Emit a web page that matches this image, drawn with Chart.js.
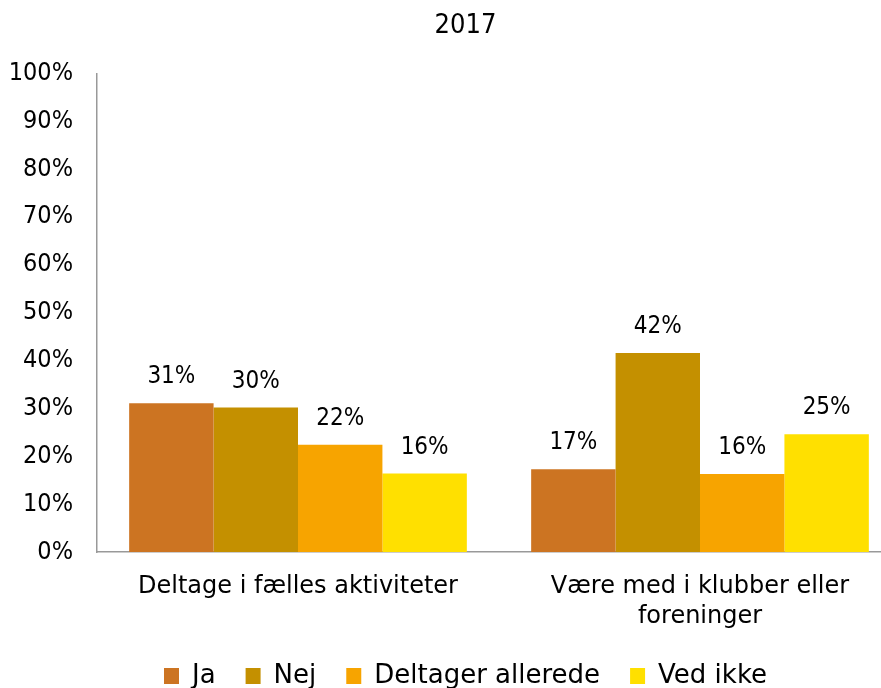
<!DOCTYPE html>
<html>
<head>
<meta charset="utf-8">
<script src="https://cdn.jsdelivr.net/npm/chart.js@4/dist/chart.umd.min.js"></script>
<style>
  html, body { margin: 0; padding: 0; background: #fff; overflow: hidden; }
  #wrap { width: 930px; height: 688px; }
</style>
</head>
<body>
<div id="wrap"><canvas id="chart"></canvas></div>
<script>
const title = "2017";
const categories = [["Deltage i fælles aktiviteter"], ["Være med i klubber eller", "foreninger"]];
const seriesNames = ["Ja", "Nej", "Deltager allerede", "Ved ikke"];
const seriesColors = ["#CC7422", "#C49000", "#F7A400", "#FFE000"];
const valuesJa = [31.1, 17.3];
const valuesNej = [30.2, 41.6];
const valuesDeltager = [22.4, 16.3];
const valuesVedIkke = [16.4, 24.6];
const yTicks = [0, 10, 20, 30, 40, 50, 60, 70, 80, 90, 100];

const COND = "'DejaVu Sans Condensed', 'DejaVu Sans', sans-serif";
const WIDE = "'DejaVu Sans', sans-serif";

// draws the value above each bar
const barLabels = {
  id: "barLabels",
  afterDatasetsDraw(chart) {
    const ctx = chart.ctx;
    ctx.save();
    ctx.font = "24px " + COND;
    ctx.fillStyle = "#000";
    ctx.textAlign = "center";
    ctx.textBaseline = "middle";
    chart.data.datasets.forEach((ds, i) => {
      chart.getDatasetMeta(i).data.forEach((bar, j) => {
        ctx.fillText(Math.round(ds.data[j]) + "%", bar.x, bar.y - 26);
      });
    });
    ctx.restore();
  }
};

// title and legend sit a bit right of the canvas centre in the original
const shiftBoxes = {
  id: "shiftBoxes",
  afterLayout(chart) {
    [chart.titleBlock, chart.legend].forEach((b) => {
      if (!b) return;
      b.left += 10;
      b.right += 10;
    });
  }
};

const allValues = [valuesJa, valuesNej, valuesDeltager, valuesVedIkke];

new Chart(document.getElementById("chart"), {
  type: "bar",
  data: {
    labels: categories,
    datasets: seriesNames.map((name, i) => ({
      label: name,
      data: allValues[i],
      backgroundColor: seriesColors[i],
      borderWidth: 0,
      categoryPercentage: 0.84,
      barPercentage: 1.0
    }))
  },
  options: {
    responsive: true,
    maintainAspectRatio: false,
    animation: false,
    layout: { padding: { left: 10, right: 29, top: 0, bottom: -11 } },
    plugins: {
      title: {
        display: true,
        text: title,
        color: "#000",
        font: { family: COND, size: 27, weight: "normal" },
        padding: { top: 10, bottom: 31 }
      },
      legend: {
        position: "bottom",
        labels: {
          color: "#000",
          font: { family: WIDE, size: 26 },
          boxWidth: 15,
          boxHeight: 16,
          padding: 30
        }
      },
      tooltip: { enabled: false }
    },
    scales: {
      x: {
        afterFit(axis) { axis.height = 81; },
        grid: { display: false, drawTicks: false },
        border: { color: "#999", width: 1.5 },
        ticks: { color: "#000", font: { family: WIDE, size: 24, lineHeight: 1.25 }, padding: 20, maxRotation: 0 }
      },
      y: {
        min: 0,
        max: 100,
        afterBuildTicks(axis) { axis.ticks = yTicks.map((v) => ({ value: v })); },
        afterFit(axis) { axis.width = 87; },
        grid: { display: false, drawTicks: false },
        border: { color: "#999", width: 1.5 },
        ticks: { color: "#000", font: { family: COND, size: 25 }, padding: 24, callback: (v) => v + "%" }
      }
    }
  },
  plugins: [barLabels, shiftBoxes]
});
</script>
</body>
</html>
